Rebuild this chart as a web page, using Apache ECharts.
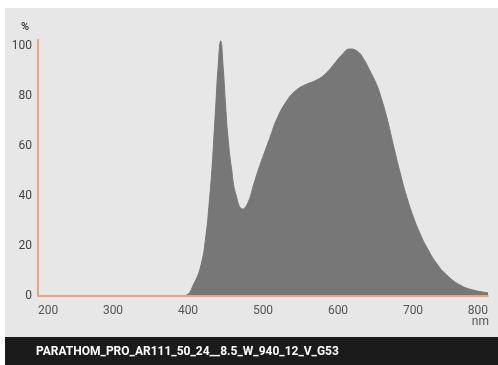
<!DOCTYPE html>
<html>
<head>
<meta charset="utf-8">
<script src="https://cdn.jsdelivr.net/npm/echarts@6/dist/echarts.min.js"></script>
<style>html,body{margin:0;padding:0;background:#fff;}#c{width:498px;height:365px;}</style>
</head>
<body>
<div id="c"></div>
<script>
// Wavelength (nm) and relative intensity (%)
const wavelengths = [200, 300, 390, 398, 407, 417, 424, 428.4, 432, 434.7, 437.3, 440, 443.6, 447, 449.8, 453, 458, 464, 473, 480.4, 487, 493.8, 502.7, 510, 518, 531.6, 545, 558, 571.6, 582.7, 593.8, 605, 616, 625.8, 633.8, 642.7, 651.6, 656, 665, 673.7, 682.7, 691.6, 700.4, 709.3, 718, 731.6, 745, 762.7, 780, 800];
const intensity   = [0,   0,   0,   0.4, 4.4, 12,  24.4, 37.7, 51, 64.4, 77.7, 91, 102, 91, 77.7, 64.4, 51, 40.4, 34.8, 37.7, 44, 50.5, 58, 64, 70.5, 78, 82.5, 84.7, 86.4, 88.7, 92.4, 96.4, 98.8, 97.9, 95, 90, 84.5, 80.8, 71.5, 60.5, 49.5, 39.7, 31.7, 25, 19.7, 13, 8.4, 4.4, 2.4, 1.3];
const xTicks = [200, 300, 400, 500, 600, 700, 800];
const yTicks = [0, 20, 40, 60, 80, 100];
const productName = 'PARATHOM_PRO_AR111_50_24__8.5_W_940_12_V_G53';

const chart = echarts.init(document.getElementById('c'), null, {renderer: 'canvas'});
const seriesData = wavelengths.map((w, i) => [w, intensity[i]]);
const axisColor = '#eaa47a';
chart.setOption({
  backgroundColor: '#ffffff',
  animation: false,
  graphic: [
    {type: 'rect', z: -10, shape: {x: 5, y: 8, width: 493, height: 329}, style: {fill: '#e7e7e7'}},
    {type: 'rect', z: -10, shape: {x: 5, y: 337, width: 493, height: 28}, style: {fill: '#1b1b1b'}},
    {type: 'text', z: 10, left: 36, top: 346, style: {text: productName, fill: '#ffffff', font: 'bold 12px Roboto, sans-serif'}},
    {type: 'text', z: 10, left: 21, top: 22, style: {text: '%', fill: '#444', font: 'bold 11px Roboto, sans-serif'}},
    {type: 'text', z: 10, right: 9, top: 316, style: {text: 'nm', fill: '#555', font: '12px Roboto, sans-serif', textAlign: 'right'}}
  ],
  grid: {left: 38, right: 10, top: 40, bottom: 69, containLabel: false},
  xAxis: {
    type: 'value', min: xTicks[0], max: xTicks[xTicks.length - 1], interval: 100, z: 5,
    axisLine: {show: true, lineStyle: {color: axisColor, width: 2}},
    axisTick: {show: false}, splitLine: {show: false},
    axisLabel: {color: '#555', fontSize: 12, fontFamily: 'Roboto, sans-serif', margin: 9,
      alignMinLabel: 'left', alignMaxLabel: 'right',
      formatter: v => xTicks.includes(v) ? String(v) : ''}
  },
  yAxis: {
    type: 'value', min: 0, max: 102.4, interval: 20, z: 5,
    axisLine: {show: true, lineStyle: {color: axisColor, width: 2}},
    axisTick: {show: false}, splitLine: {show: false},
    axisLabel: {color: '#444', fontSize: 12, fontFamily: 'Roboto, sans-serif', margin: 6, showMaxLabel: false,
      formatter: v => yTicks.includes(v) ? String(v) : ''}
  },
  series: [{
    type: 'line', data: seriesData, smooth: 0.5, showSymbol: false, symbol: 'none',
    lineStyle: {color: '#777777', width: 1},
    areaStyle: {color: '#777777', opacity: 1}
  }]
});
</script>
</body>
</html>
